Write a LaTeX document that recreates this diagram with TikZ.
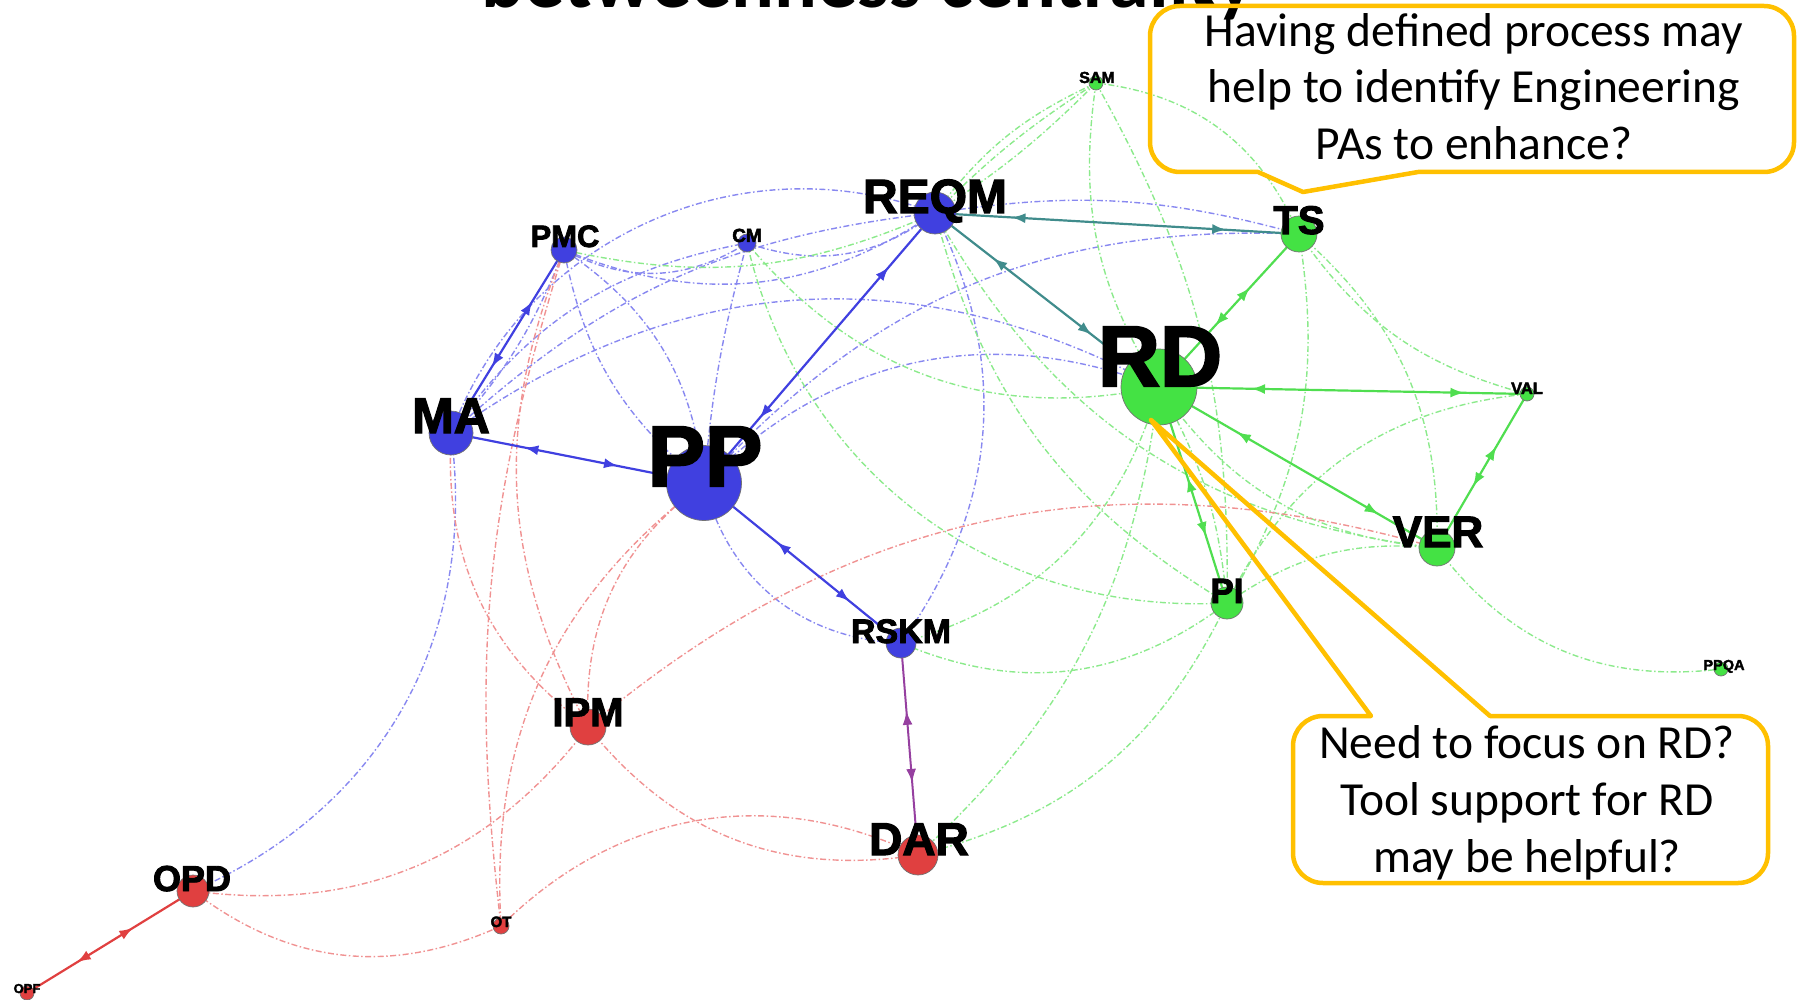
\documentclass[tikz,border=0pt]{standalone}
\usepackage{fontspec}
\setmainfont{Carlito}
\newfontfamily\lblfont{Liberation Sans Bold}[FakeBold=2.5]
\usetikzlibrary{arrows.meta,decorations.markings}
\definecolor{nblue}{RGB}{64,64,224}
\definecolor{ngreen}{RGB}{68,226,68}
\definecolor{nred}{RGB}{224,64,64}
\definecolor{eblue}{RGB}{136,136,240}
\definecolor{egreen}{RGB}{140,234,140}
\definecolor{ered}{RGB}{240,146,146}
\definecolor{sblue}{RGB}{64,64,224}
\definecolor{steal}{RGB}{64,140,140}
\definecolor{spurple}{RGB}{150,64,160}
\definecolor{sgreen}{RGB}{80,222,80}
\definecolor{sred}{RGB}{224,64,64}
\definecolor{coCol}{RGB}{255,192,0}
\pgfdeclarelayer{edges}
\pgfsetlayers{edges,main}
\newcommand\myfs[1]{\fontsize{#1}{#1}\selectfont}
\begin{document}
\begin{tikzpicture}[x=1pt,y=1pt,
  gnode/.style={circle,draw=black!55,line width=0.7pt,inner sep=0pt,minimum size=#1},
  lbl/.style={anchor=base,inner sep=0pt,font=\lblfont\myfs{#1}},
  lb/.style={draw=eblue,line width=1.4pt,dash pattern=on 6pt off 2.5pt on 1.5pt off 2.5pt},
  lg/.style={lb,draw=egreen},
  lr/.style={lb,draw=ered},
  bidir/.style 2 args={postaction={decorate,decoration={markings,
     mark=at position #1 with {\arrowreversed{Latex[length=14pt,width=10pt]}},
     mark=at position #2 with {\arrow{Latex[length=14pt,width=10pt]}}}}},
  sb/.style={draw=sblue,line width=2.2pt},
  st/.style={draw=steal,line width=2.2pt},
  sp/.style={draw=spurple,line width=2pt},
  sg/.style={draw=sgreen,line width=2.2pt},
  sr/.style={draw=sred,line width=2.2pt},
  co/.style={draw=coCol,line width=4.5pt,line join=round},
  cotext/.style={anchor=base,inner sep=0pt,font=\myfs{47.5}}
]
\useasboundingbox (0,0) rectangle (1798,-1000);

% ---- nodes ----
\node[gnode=14pt,fill=ngreen] (SAM) at (1096,-83) {};
\node[gnode=42pt,fill=nblue] (REQM) at (935,-213) {};
\node[gnode=26pt,fill=nblue] (PMC) at (564,-250) {};
\node[gnode=18pt,fill=nblue] (CM) at (747,-243) {};
\node[gnode=36pt,fill=ngreen] (TS) at (1299,-234) {};
\node[gnode=76pt,fill=ngreen] (RD) at (1159,-387) {};
\node[gnode=14pt,fill=ngreen] (VAL) at (1527,-394) {};
\node[gnode=44pt,fill=nblue] (MA) at (451,-433) {};
\node[gnode=75pt,fill=nblue] (PP) at (704,-483) {};
\node[gnode=36pt,fill=ngreen] (VER) at (1437,-548) {};
\node[gnode=32pt,fill=ngreen] (PI) at (1227,-603) {};
\node[gnode=14pt,fill=ngreen] (PPQA) at (1721,-669) {};
\node[gnode=30pt,fill=nblue] (RSKM) at (901,-643) {};
\node[gnode=36pt,fill=nred] (IPM) at (588,-727) {};
\node[gnode=40pt,fill=nred] (DAR) at (918,-855) {};
\node[gnode=32pt,fill=nred] (OPD) at (193,-891) {};
\node[gnode=16pt,fill=nred] (OT) at (501,-926) {};
\node[gnode=14pt,fill=nred] (OPF) at (27,-993) {};

% ---- labels ----
\node[lbl=16] (SAMl) at (1097,-83) {SAM};
\node[lbl=48] (REQMl) at (935,-213) {REQM};
\node[lbl=31] (PMCl) at (565,-247) {PMC};
\node[lbl=19] (CMl) at (747,-242) {CM};
\node[lbl=40] (TSl) at (1299,-234) {TS};
\node[lbl=86] (RDl) at (1160,-386) {RD};
\node[lbl=16.5] (VALl) at (1527,-394) {VAL};
\node[lbl=50] (MAl) at (451,-433) {MA};
\node[lbl=86] (PPl) at (705,-486) {PP};
\node[lbl=44] (VERl) at (1438,-547) {VER};
\node[lbl=35] (PIl) at (1227,-603) {PI};
\node[lbl=14.5] (PPQAl) at (1724,-670) {PPQA};
\node[lbl=34] (RSKMl) at (901,-643) {RSKM};
\node[lbl=40] (IPMl) at (588,-726) {IPM};
\node[lbl=46] (DARl) at (919,-855) {DAR};
\node[lbl=36] (OPDl) at (192,-891) {OPD};
\node[lbl=15] (OTl) at (501,-927) {OT};
\node[lbl=13] (OPFl) at (27,-993) {OPF};

% ---- edges ----
\begin{pgfonlayer}{edges}
% light blue
\draw[lb] (REQM.center) to[bend right=45] (MA.center);
\draw[lb] (MA.center) to[bend left=18] (REQM.center);
\draw[lb] (PMC.center) to[bend right=28] (REQM.center);
\draw[lb] (PMC.center) to[bend right=30] (CM.center);
\draw[lb] (CM.center) to[bend right=28] (REQM.center);
\draw[lb] (MA.center) to[bend left=32] (RD.center);
\draw[lb] (PP.center) to[bend left=33] (RD.center);
\draw[lb] (PP.center) to[bend left=25] (TS.center);
\draw[lb] (REQM.center) to[bend left=12] (TS.center);
\draw[lb] (PMC.center) to[bend right=20] (PP.center);
\draw[lb] (PMC.center) to[bend left=25] (PP.center);
\draw[lb] (CM.center) to[bend right=5] (PP.center);
\draw[lb] (REQM.center) to[bend left=31] (RSKM.center);
\draw[lb] (PP.center) to[bend right=37] (RSKM.center);
\draw[lb] (MA.center) to[bend left=37] (OPD.center);
\draw[lb] (PMC.center) to[bend left=10] (MA.center);
\draw[lb] (MA.center) to[bend left=22] (CM.center);
% light green
\draw[lg] (SAM.center) to[bend left=6] (REQM.center);
\draw[lg] (SAM.center) to[bend right=6] (REQM.center);
\draw[lg] (SAM.center) to[bend right=14] (REQM.center);
\draw[lg] (SAM.center) to[bend left=30] (TS.center);
\draw[lg] (SAM.center) to[bend left=15] (PI.center);
\draw[lg] (SAM.center) to[bend right=20] (RD.center);
\draw[lg] (PMC.center) to[bend right=18] (REQM.center);
\draw[lg] (CM.center) to[bend right=31] (RD.center);
\draw[lg] (CM.center) to[bend right=40] (PI.center);
\draw[lg] (REQM.center) to[bend right=22] (PI.center);
\draw[lg] (REQM.center) to[bend right=27] (VER.center);
\draw[lg] (TS.center) to[bend left=25] (VER.center);
\draw[lg] (TS.center) to[bend right=20] (VAL.center);
\draw[lg] (TS.center) to[bend left=20] (PI.center);
\draw[lg] (VAL.center) to[bend right=29] (PI.center);
\draw[lg] (VER.center) to[bend right=30] (PPQA.center);
\draw[lg] (VER.center) to[bend left=25] (RD.center);
\draw[lg] (VER.center) to[bend right=20] (PI.center);
\draw[lg] (RSKM.center) to[bend right=30] (PI.center);
\draw[lg] (RSKM.center) to[bend right=29] (RD.center);
\draw[lg] (DAR.center) to[bend right=25] (PI.center);
\draw[lg] (DAR.center) to[bend right=20] (RD.center);
\draw[lg] (RD.center) to[bend left=12] (PI.center);
% light red
\draw[lr] (MA.center) to[bend right=28] (IPM.center);
\draw[lr] (PMC.center) to[bend right=12] (OT.center);
\draw[lr] (PMC.center) to[bend right=25] (IPM.center);
\draw[lr] (PP.center) to[bend right=28] (IPM.center);
\draw[lr] (PP.center) to[bend right=28] (OT.center);
\draw[lr] (IPM.center) to[bend left=30] (OPD.center);
\draw[lr] (OPD.center) to[bend right=31] (OT.center);
\draw[lr] (OT.center) to[bend left=35] (DAR.center);
\draw[lr] (IPM.center) to[bend right=30] (DAR.center);
\draw[lr] (IPM.center) to[bend left=28] (VER.center);
% solid weighted edges
\draw[sb,bidir={0.29}{0.66}] (MA.center) -- (PP.center);
\draw[sb,bidir={0.28}{0.64}] (PMC.center) -- (MA.center);
\draw[sb,bidir={0.2}{0.76}] (REQM.center) -- (PP.center);
\draw[sb,bidir={0.37}{0.74}] (PP.center) -- (RSKM.center);
\draw[sp,bidir={0.32}{0.66}] (RSKM.center) -- (DAR.center);
\draw[st,bidir={0.21}{0.8}] (REQM.center) -- (TS.center);
\draw[st,bidir={0.26}{0.7}] (REQM.center) -- (RD.center);
\draw[sg,bidir={0.35}{0.6}] (TS.center) -- (RD.center);
\draw[sg,bidir={0.25}{0.83}] (RD.center) -- (VAL.center);
\draw[sg,bidir={0.28}{0.79}] (RD.center) -- (VER.center);
\draw[sg,bidir={0.34}{0.6}] (VAL.center) -- (VER.center);
\draw[sg,bidir={0.42}{0.69}] (RD.center) -- (PI.center);
\draw[sr,bidir={0.36}{0.7}] (OPD.center) -- (OPF.center);
\end{pgfonlayer}

% ---- title (cut off at the top, as in the slide) ----
\node[anchor=base,inner sep=0pt,font=\bfseries\myfs{80}] (title) at (868,-8) {betweenness centrality};

% ---- callout 1 ----
\draw[co] (1418,-172) -- (1764,-172) arc[start angle=270,end angle=360,radius=30]
  -- (1794,-36) arc[start angle=0,end angle=90,radius=30]
  -- (1180,-6) arc[start angle=90,end angle=180,radius=30]
  -- (1150,-142) arc[start angle=180,end angle=270,radius=30]
  -- (1258,-172) -- (1303,-192) -- cycle;
\node[cotext] (c1a) at (1474,-47) {Having defined process may};
\node[cotext] (c1b) at (1474,-103) {help to identify Engineering};
\node[cotext] (c1c) at (1474,-160) {PAs to enhance?};

% ---- callout 2 ----
\coordinate (tip) at (1151,-420);
\draw[co] (1371,-716) -- (tip) -- (1490,-716)
  -- (1738,-716) arc[start angle=90,end angle=0,radius=30]
  -- (1768,-853) arc[start angle=0,end angle=-90,radius=30]
  -- (1323,-883) arc[start angle=270,end angle=180,radius=30]
  -- (1293,-746) arc[start angle=180,end angle=90,radius=30]
  -- cycle;
\node[cotext] (c2a) at (1527,-758) {Need to focus on RD?};
\node[cotext] (c2b) at (1527,-815) {Tool support for RD};
\node[cotext] (c2c) at (1527,-872) {may be helpful?};
\end{tikzpicture}
\end{document}
